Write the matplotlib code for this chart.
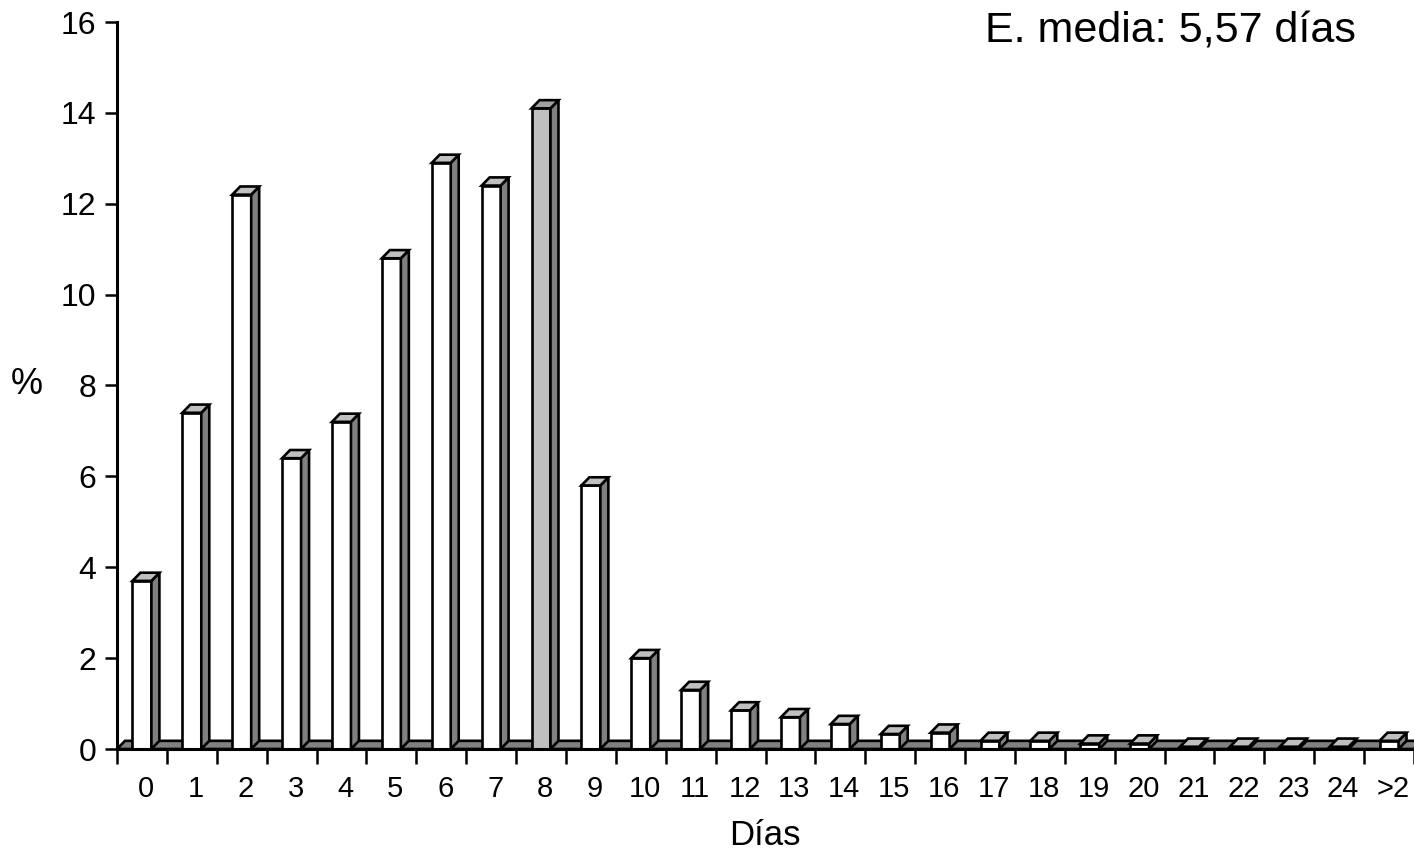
import matplotlib.pyplot as plt
import numpy as np
from matplotlib.patches import Polygon

plt.rcParams['font.family'] = ['Liberation Sans', 'DejaVu Sans']

# datos
dias = ['0', '1', '2', '3', '4', '5', '6', '7', '8', '9', '10', '11', '12',
        '13', '14', '15', '16', '17', '18', '19', '20', '21', '22', '23', '24', '>2']
pct = [3.7, 7.4, 12.2, 6.4, 7.2, 10.8, 12.9, 12.4, 14.1, 5.8, 2.0, 1.3, 0.85,
       0.7, 0.55, 0.33, 0.36, 0.18, 0.18, 0.12, 0.12, 0.05, 0.05, 0.05, 0.05, 0.18]
destacado = 8

fig = plt.figure(figsize=(14.14, 8.55), dpi=100)
ax = fig.add_axes([117 / 1414, 1 - 749 / 855, 1 - 117 / 1414, (749 - 22) / 855])

n = len(dias)
x = np.arange(n)
w = 0.38
dx, dy = 0.16, 0.18
lw = 1.9

ax.set_xlim(-0.5, n - 0.5)
ax.set_ylim(0, 16)

# suelo 3D
ax.add_patch(Polygon([(-0.5, 0), (n - 0.5, 0), (n - 0.5 + dx, dy), (-0.5 + dx, dy)],
                     closed=True, facecolor='#808080', edgecolor='black', lw=lw,
                     zorder=2, clip_on=True))

for i, v in enumerate(pct):
    front = '#c0c0c0' if i == destacado else 'white'
    top = '#a0a0a0' if i == destacado else '#c0c0c0'
    x0, x1 = x[i] - w / 2, x[i] + w / 2
    ax.add_patch(Polygon([(x0, 0), (x1, 0), (x1, v), (x0, v)], closed=True,
                         facecolor=front, edgecolor='black', lw=lw, zorder=3))
    ax.add_patch(Polygon([(x1, 0), (x1 + dx, dy), (x1 + dx, v + dy), (x1, v)], closed=True,
                         facecolor='#808080', edgecolor='black', lw=lw, zorder=3))
    ax.add_patch(Polygon([(x0, v), (x1, v), (x1 + dx, v + dy), (x0 + dx, v + dy)], closed=True,
                         facecolor=top, edgecolor='black', lw=lw, zorder=3))

ax.spines['top'].set_visible(False)
ax.spines['right'].set_visible(False)
ax.spines['left'].set_linewidth(2.2)
ax.spines['bottom'].set_linewidth(2.2)
ax.spines['bottom'].set_zorder(4)

ax.set_yticks(np.arange(0, 17, 2))
ax.tick_params(axis='y', length=9, width=1.8, labelsize=23, pad=6)
ax.set_xticks(np.arange(-0.5, n, 1.0))
ax.set_xticklabels([])
ax.set_xticks(x + dx / 2, minor=True)
ax.set_xticklabels(dias, minor=True)
ax.tick_params(axis='x', which='major', length=11, width=1.8)
ax.tick_params(axis='x', which='minor', length=0, labelsize=21, pad=19)

fig.text(27 / 1414, 1 - 385 / 855, '%', fontsize=26, ha='center', va='center')
fig.text(765 / 1414, 1 - 835 / 855, 'Días', fontsize=25, ha='center', va='center')
fig.text(985 / 1414, 1 - 31 / 855, 'E. media: 5,57 días', fontsize=31, ha='left', va='center')

fig.savefig('out.png', dpi=100)
